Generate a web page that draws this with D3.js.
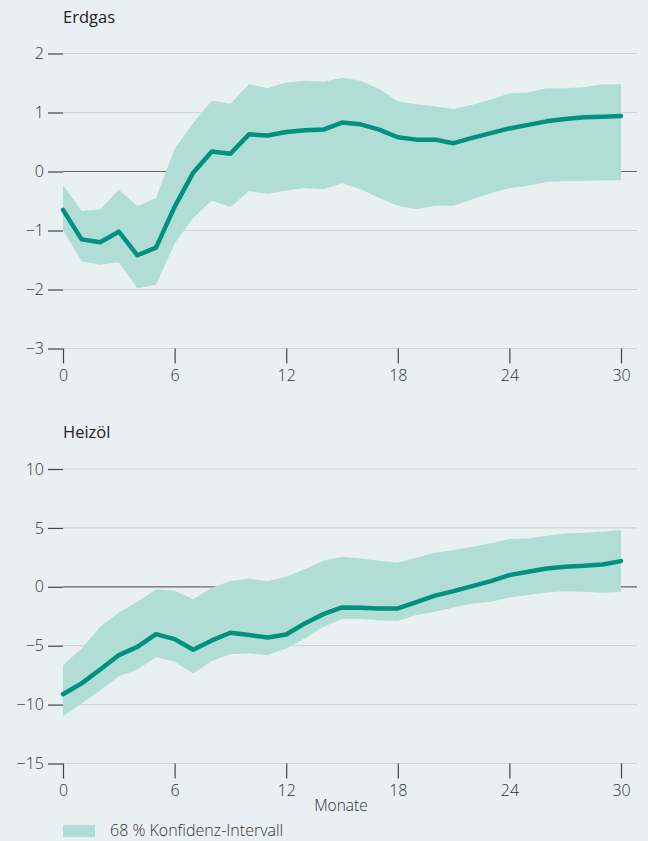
<!DOCTYPE html>
<html>
<head>
<meta charset="utf-8">
<script src="https://cdn.jsdelivr.net/npm/d3@7"></script>
<style>
  body { margin: 0; background: #e8f0f1; }
  svg { display: block; font-family: "Open Sans", sans-serif; }
  .tick text { font-size: 16px; fill: #333; font-family: "Open Sans", sans-serif; font-weight: 300; }
  .tick line { stroke: #444; }
</style>
</head>
<body>
<svg width="648" height="841"></svg>
<script>
var months = d3.range(0, 31);
var xTicks = [0, 6, 12, 18, 24, 30];

var gasTicks = [-3, -2, -1, 0, 1, 2];
var gasMid = [-0.65, -1.15, -1.2, -1.02, -1.42, -1.29, -0.6, -0.02, 0.34, 0.3, 0.63, 0.61, 0.67, 0.7, 0.71, 0.83, 0.8, 0.71, 0.58, 0.54, 0.54, 0.48, 0.57, 0.65, 0.73, 0.79, 0.85, 0.89, 0.92, 0.93, 0.94];
var gasHigh = [-0.23, -0.67, -0.64, -0.31, -0.59, -0.45, 0.38, 0.82, 1.2, 1.15, 1.48, 1.41, 1.51, 1.54, 1.52, 1.59, 1.54, 1.4, 1.19, 1.14, 1.1, 1.06, 1.13, 1.22, 1.32, 1.34, 1.41, 1.41, 1.43, 1.48, 1.48];
var gasLow = [-0.99, -1.52, -1.58, -1.54, -1.98, -1.92, -1.22, -0.79, -0.49, -0.6, -0.33, -0.38, -0.32, -0.28, -0.3, -0.2, -0.3, -0.45, -0.58, -0.64, -0.58, -0.58, -0.47, -0.37, -0.28, -0.24, -0.18, -0.16, -0.16, -0.15, -0.15];

var oilTicks = [-15, -10, -5, 0, 5, 10];
var oilMid = [-9.12, -8.2, -7.02, -5.8, -5.1, -4.02, -4.44, -5.35, -4.55, -3.9, -4.1, -4.3, -4.05, -3.11, -2.32, -1.75, -1.78, -1.84, -1.84, -1.3, -0.75, -0.37, 0.06, 0.48, 0.99, 1.27, 1.56, 1.7, 1.78, 1.9, 2.18];
var oilHigh = [-6.65, -5.24, -3.4, -2.2, -1.27, -0.22, -0.34, -1.06, -0.07, 0.5, 0.71, 0.48, 0.85, 1.48, 2.21, 2.55, 2.41, 2.21, 2.04, 2.47, 2.89, 3.12, 3.4, 3.69, 4.05, 4.11, 4.33, 4.53, 4.59, 4.67, 4.82];
var oilLow = [-10.99, -9.9, -8.78, -7.59, -7.02, -5.95, -6.37, -7.36, -6.3, -5.72, -5.66, -5.8, -5.24, -4.39, -3.4, -2.74, -2.74, -2.83, -2.91, -2.4, -2.12, -1.75, -1.41, -1.27, -0.9, -0.7, -0.48, -0.37, -0.42, -0.51, -0.42];

var bandColor = "#b0ddd6";
var lineColor = "#00917f";

var svg = d3.select("svg");

var x = d3.scaleLinear().domain([0, 30]).range([63, 621]);
var gridEnd = 637;

function drawPanel(title, ticks, mid, low, high, top, bottom) {
    var y = d3.scaleLinear()
        .domain([ticks[0], ticks[ticks.length - 1]])
        .range([bottom, top]);
    var g = svg.append("g");

    // title
    g.append("text")
        .attr("x", 63)
        .attr("y", top - 31)
        .attr("font-size", 16.5)
        .attr("fill", "#222")
        .text(title);

    // light gridlines
    g.selectAll(".grid")
        .data(ticks.filter(function (d) { return d !== 0; }))
        .enter().append("line")
        .attr("x1", x(0)).attr("x2", gridEnd)
        .attr("y1", function (d) { return y(d); })
        .attr("y2", function (d) { return y(d); })
        .attr("stroke", "#cfd5d7")
        .attr("stroke-width", 1.2);

    // zero line (under the band)
    g.append("line")
        .attr("x1", x(0)).attr("x2", gridEnd)
        .attr("y1", y(0)).attr("y2", y(0))
        .attr("stroke", "#666")
        .attr("stroke-width", 1.2);

    var area = d3.area()
        .x(function (d, i) { return x(months[i]); })
        .y0(function (d, i) { return y(low[i]); })
        .y1(function (d, i) { return y(high[i]); });

    g.append("path")
        .datum(mid)
        .attr("d", area)
        .attr("fill", bandColor);

    var line = d3.line()
        .x(function (d, i) { return x(months[i]); })
        .y(function (d) { return y(d); });

    g.append("path")
        .datum(mid)
        .attr("d", line)
        .attr("fill", "none")
        .attr("stroke", lineColor)
        .attr("stroke-width", 4.5)
        .attr("stroke-linejoin", "round")
        .attr("stroke-linecap", "round");

    var yAxis = d3.axisLeft(y)
        .tickValues(ticks)
        .tickFormat(d3.format("d"))
        .tickSize(15)
        .tickPadding(4);

    g.append("g")
        .attr("transform", "translate(" + x(0) + ",0)")
        .call(yAxis)
        .call(function (a) { a.select(".domain").remove(); });

    var xAxis = d3.axisBottom(x)
        .tickValues(xTicks)
        .tickSize(15)
        .tickPadding(6);

    g.append("g")
        .attr("transform", "translate(0," + bottom + ")")
        .call(xAxis)
        .call(function (a) { a.select(".domain").remove(); });

    g.selectAll(".tick line").attr("stroke-width", 1.2);
}

drawPanel("Erdgas", gasTicks, gasMid, gasLow, gasHigh, 53.5, 348.5);
drawPanel("Heizöl", oilTicks, oilMid, oilLow, oilHigh, 469, 763.5);

svg.append("text")
    .attr("x", 341)
    .attr("y", 811)
    .attr("text-anchor", "middle")
    .attr("font-size", 15.5)
    .attr("font-weight", 300)
    .attr("fill", "#333")
    .text("Monate");

// legend
svg.append("rect")
    .attr("x", 63).attr("y", 825)
    .attr("width", 32).attr("height", 12)
    .attr("fill", bandColor);

svg.append("text")
    .attr("x", 110)
    .attr("y", 836)
    .attr("font-size", 16)
    .attr("font-weight", 300)
    .attr("fill", "#333")
    .text("68 % Konfidenz-Intervall");
</script>
</body>
</html>
